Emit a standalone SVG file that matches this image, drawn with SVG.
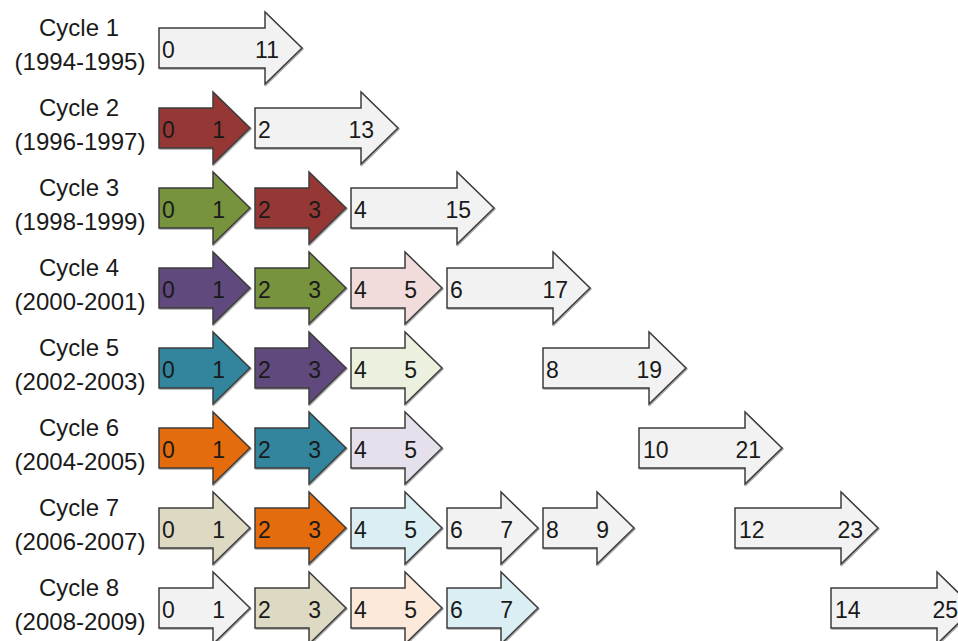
<svg xmlns="http://www.w3.org/2000/svg" xmlns:xlink="http://www.w3.org/1999/xlink" width="958" height="641" viewBox="0 0 958 641">
  <style>
    .lbl { font-family: "Liberation Sans", Arial, sans-serif; font-size: 24px; fill: #1a1a1a; text-anchor: middle; }
    .num { font-family: "Liberation Sans", Arial, sans-serif; font-size: 23px; fill: #1a1a1a; }
    .e { text-anchor: end; }
    .arr { stroke: #3c3c3c; stroke-width: 1.5; stroke-linejoin: miter; filter: url(#shadow); }
    .gray { fill: #f2f2f2; }
    .red { fill: #953735; }
    .green { fill: #77933c; }
    .purple { fill: #604a7b; }
    .teal { fill: #31859c; }
    .orange { fill: #e46c0a; }
    .beige { fill: #ddd9c3; }
    .pink { fill: #f2dcdb; }
    .lgreen { fill: #ebf1de; }
    .lav { fill: #e5e0ec; }
    .lblue { fill: #dbeef4; }
    .peach { fill: #fde9d9; }
  </style>
  <defs>
    <filter id="shadow" x="-10%" y="-10%" width="130%" height="130%">
      <feDropShadow dx="1" dy="1" stdDeviation="0.7" flood-color="#000" flood-opacity="0.35"/>
    </filter>
    <!-- two-step block arrow -->
    <path id="short" d="M0,-20 H54 V-36 L91,0 L54,36 V20 H0 Z"/>
    <!-- long block arrow spanning a whole remaining window -->
    <path id="long" d="M0,-20 H106 V-36 L143,0 L106,36 V20 H0 Z"/>
  </defs>
  <rect width="958" height="641" fill="#ffffff"/>

  <!-- row labels -->
  <g id="labels">
    <text class="lbl" x="79" y="36">Cycle 1</text><text class="lbl" x="80" y="70">(1994-1995)</text>
    <text class="lbl" x="79" y="116">Cycle 2</text><text class="lbl" x="80" y="150">(1996-1997)</text>
    <text class="lbl" x="79" y="196">Cycle 3</text><text class="lbl" x="80" y="230">(1998-1999)</text>
    <text class="lbl" x="79" y="276">Cycle 4</text><text class="lbl" x="80" y="310">(2000-2001)</text>
    <text class="lbl" x="79" y="356">Cycle 5</text><text class="lbl" x="80" y="390">(2002-2003)</text>
    <text class="lbl" x="79" y="436">Cycle 6</text><text class="lbl" x="80" y="470">(2004-2005)</text>
    <text class="lbl" x="79" y="516">Cycle 7</text><text class="lbl" x="80" y="550">(2006-2007)</text>
    <text class="lbl" x="79" y="596">Cycle 8</text><text class="lbl" x="80" y="630">(2008-2009)</text>
  </g>

  <!-- Cycle 1 -->
  <g id="c1-a" transform="translate(159,48)"><use href="#long" class="arr gray"/><text class="num" x="3" y="10">0</text><text class="num e" x="120" y="10">11</text></g>

  <!-- Cycle 2 -->
  <g id="c2-a" transform="translate(159,128)"><use href="#short" class="arr red"/><text class="num" x="3" y="10">0</text><text class="num e" x="66" y="10">1</text></g>
  <g id="c2-b" transform="translate(255,128)"><use href="#long" class="arr gray"/><text class="num" x="3" y="10">2</text><text class="num e" x="119" y="10">13</text></g>

  <!-- Cycle 3 -->
  <g id="c3-a" transform="translate(159,208)"><use href="#short" class="arr green"/><text class="num" x="3" y="10">0</text><text class="num e" x="66" y="10">1</text></g>
  <g id="c3-b" transform="translate(255,208)"><use href="#short" class="arr red"/><text class="num" x="3" y="10">2</text><text class="num e" x="66" y="10">3</text></g>
  <g id="c3-c" transform="translate(351,208)"><use href="#long" class="arr gray"/><text class="num" x="3" y="10">4</text><text class="num e" x="120" y="10">15</text></g>

  <!-- Cycle 4 -->
  <g id="c4-a" transform="translate(159,288)"><use href="#short" class="arr purple"/><text class="num" x="3" y="10">0</text><text class="num e" x="66" y="10">1</text></g>
  <g id="c4-b" transform="translate(255,288)"><use href="#short" class="arr green"/><text class="num" x="3" y="10">2</text><text class="num e" x="66" y="10">3</text></g>
  <g id="c4-c" transform="translate(351,288)"><use href="#short" class="arr pink"/><text class="num" x="3" y="10">4</text><text class="num e" x="66" y="10">5</text></g>
  <g id="c4-d" transform="translate(447,288)"><use href="#long" class="arr gray"/><text class="num" x="3" y="10">6</text><text class="num e" x="121" y="10">17</text></g>

  <!-- Cycle 5 -->
  <g id="c5-a" transform="translate(159,368)"><use href="#short" class="arr teal"/><text class="num" x="3" y="10">0</text><text class="num e" x="66" y="10">1</text></g>
  <g id="c5-b" transform="translate(255,368)"><use href="#short" class="arr purple"/><text class="num" x="3" y="10">2</text><text class="num e" x="66" y="10">3</text></g>
  <g id="c5-c" transform="translate(351,368)"><use href="#short" class="arr lgreen"/><text class="num" x="3" y="10">4</text><text class="num e" x="66" y="10">5</text></g>
  <g id="c5-d" transform="translate(543,368)"><use href="#long" class="arr gray"/><text class="num" x="3" y="10">8</text><text class="num e" x="119" y="10">19</text></g>

  <!-- Cycle 6 -->
  <g id="c6-a" transform="translate(159,448)"><use href="#short" class="arr orange"/><text class="num" x="3" y="10">0</text><text class="num e" x="66" y="10">1</text></g>
  <g id="c6-b" transform="translate(255,448)"><use href="#short" class="arr teal"/><text class="num" x="3" y="10">2</text><text class="num e" x="66" y="10">3</text></g>
  <g id="c6-c" transform="translate(351,448)"><use href="#short" class="arr lav"/><text class="num" x="3" y="10">4</text><text class="num e" x="66" y="10">5</text></g>
  <g id="c6-d" transform="translate(639,448)"><use href="#long" class="arr gray"/><text class="num" x="4" y="10">10</text><text class="num e" x="122" y="10">21</text></g>

  <!-- Cycle 7 -->
  <g id="c7-a" transform="translate(159,528)"><use href="#short" class="arr beige"/><text class="num" x="3" y="10">0</text><text class="num e" x="66" y="10">1</text></g>
  <g id="c7-b" transform="translate(255,528)"><use href="#short" class="arr orange"/><text class="num" x="3" y="10">2</text><text class="num e" x="66" y="10">3</text></g>
  <g id="c7-c" transform="translate(351,528)"><use href="#short" class="arr lblue"/><text class="num" x="3" y="10">4</text><text class="num e" x="66" y="10">5</text></g>
  <g id="c7-d" transform="translate(447,528)"><use href="#short" class="arr gray"/><text class="num" x="3" y="10">6</text><text class="num e" x="66" y="10">7</text></g>
  <g id="c7-e" transform="translate(543,528)"><use href="#short" class="arr gray"/><text class="num" x="3" y="10">8</text><text class="num e" x="66" y="10">9</text></g>
  <g id="c7-f" transform="translate(735,528)"><use href="#long" class="arr gray"/><text class="num" x="4" y="10">12</text><text class="num e" x="128" y="10">23</text></g>

  <!-- Cycle 8 -->
  <g id="c8-a" transform="translate(159,608)"><use href="#short" class="arr gray"/><text class="num" x="3" y="10">0</text><text class="num e" x="66" y="10">1</text></g>
  <g id="c8-b" transform="translate(255,608)"><use href="#short" class="arr beige"/><text class="num" x="3" y="10">2</text><text class="num e" x="66" y="10">3</text></g>
  <g id="c8-c" transform="translate(351,608)"><use href="#short" class="arr peach"/><text class="num" x="3" y="10">4</text><text class="num e" x="66" y="10">5</text></g>
  <g id="c8-d" transform="translate(447,608)"><use href="#short" class="arr lblue"/><text class="num" x="3" y="10">6</text><text class="num e" x="66" y="10">7</text></g>
  <g id="c8-e" transform="translate(831,608)"><use href="#long" class="arr gray"/><text class="num" x="4" y="10">14</text><text class="num e" x="127" y="10">25</text></g>

  <g id="connectors"/>
</svg>
